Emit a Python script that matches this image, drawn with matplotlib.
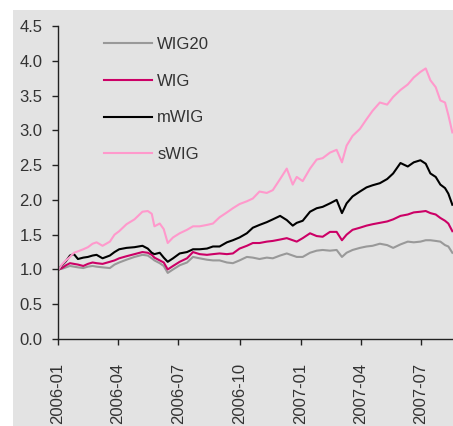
import matplotlib
matplotlib.use("Agg")
import matplotlib.pyplot as plt
import matplotlib.dates as mdates
from matplotlib.patches import Rectangle
import pandas as pd

dates = ["2006-01-02", "2006-01-07", "2006-01-13", "2006-01-19", "2006-01-25", "2006-01-31",
         "2006-02-08", "2006-02-15", "2006-02-22", "2006-02-28", "2006-03-09", "2006-03-20",
         "2006-03-27", "2006-04-03", "2006-04-14", "2006-04-26", "2006-05-08", "2006-05-16",
         "2006-05-22", "2006-05-26", "2006-06-03", "2006-06-09", "2006-06-15", "2006-06-23",
         "2006-07-03", "2006-07-14", "2006-07-23", "2006-08-02", "2006-08-13", "2006-08-22",
         "2006-09-01", "2006-09-12", "2006-09-21", "2006-10-01", "2006-10-12", "2006-10-21",
         "2006-10-31", "2006-11-11", "2006-11-20", "2006-12-01", "2006-12-11", "2006-12-20",
         "2006-12-26", "2007-01-04", "2007-01-15", "2007-01-25", "2007-02-03", "2007-02-14",
         "2007-02-24", "2007-03-04", "2007-03-11", "2007-03-20", "2007-03-31", "2007-04-10",
         "2007-04-19", "2007-04-30", "2007-05-11", "2007-05-20", "2007-05-31", "2007-06-11",
         "2007-06-20", "2007-06-30", "2007-07-08", "2007-07-15", "2007-07-23", "2007-07-30",
         "2007-08-06", "2007-08-11", "2007-08-17"]

wig20 = [1.00, 1.01, 1.03, 1.05, 1.04, 1.03, 1.02, 1.04, 1.05, 1.04, 1.03, 1.02,
         1.07, 1.10, 1.14, 1.18, 1.21, 1.20, 1.16, 1.13, 1.09, 1.05, 0.95, 1.00,
         1.06, 1.10, 1.18, 1.16, 1.14, 1.13, 1.13, 1.10, 1.09, 1.13, 1.18, 1.17,
         1.15, 1.17, 1.16, 1.20, 1.23, 1.20, 1.18, 1.18, 1.24, 1.27, 1.28, 1.27,
         1.28, 1.18, 1.24, 1.28, 1.31, 1.33, 1.34, 1.37, 1.35, 1.31, 1.36, 1.40,
         1.39, 1.40, 1.42, 1.42, 1.41, 1.40, 1.35, 1.33, 1.24]

wig = [1.00, 1.02, 1.06, 1.09, 1.08, 1.07, 1.05, 1.08, 1.10, 1.09, 1.08, 1.11,
       1.13, 1.16, 1.19, 1.22, 1.25, 1.24, 1.21, 1.17, 1.13, 1.10, 1.00, 1.05,
       1.11, 1.16, 1.25, 1.22, 1.21, 1.22, 1.23, 1.22, 1.23, 1.30, 1.34, 1.38,
       1.38, 1.40, 1.41, 1.43, 1.45, 1.42, 1.40, 1.45, 1.52, 1.48, 1.47, 1.54,
       1.54, 1.42, 1.50, 1.57, 1.60, 1.63, 1.65, 1.67, 1.69, 1.72, 1.77, 1.79,
       1.82, 1.83, 1.84, 1.81, 1.79, 1.74, 1.70, 1.66, 1.55]

mwig = [1.00, 1.06, 1.12, 1.20, 1.22, 1.15, 1.17, 1.18, 1.20, 1.21, 1.16, 1.20,
        1.25, 1.29, 1.31, 1.32, 1.34, 1.30, 1.24, 1.22, 1.24, 1.17, 1.11, 1.16,
        1.23, 1.25, 1.29, 1.29, 1.30, 1.33, 1.33, 1.39, 1.42, 1.46, 1.52, 1.60,
        1.64, 1.68, 1.72, 1.77, 1.71, 1.63, 1.67, 1.70, 1.83, 1.88, 1.90, 1.95,
        2.00, 1.81, 1.95, 2.05, 2.12, 2.18, 2.21, 2.24, 2.30, 2.38, 2.53, 2.48,
        2.54, 2.57, 2.52, 2.38, 2.33, 2.22, 2.17, 2.09, 1.93]

swig = [1.00, 1.07, 1.13, 1.18, 1.24, 1.26, 1.29, 1.32, 1.37, 1.39, 1.34, 1.40,
        1.50, 1.55, 1.65, 1.72, 1.83, 1.84, 1.80, 1.62, 1.66, 1.58, 1.38, 1.46,
        1.52, 1.57, 1.62, 1.62, 1.64, 1.66, 1.75, 1.82, 1.88, 1.94, 1.98, 2.02,
        2.12, 2.10, 2.14, 2.30, 2.45, 2.22, 2.33, 2.27, 2.45, 2.58, 2.60, 2.68,
        2.72, 2.54, 2.78, 2.92, 3.02, 3.16, 3.28, 3.40, 3.37, 3.48, 3.58, 3.66,
        3.76, 3.84, 3.89, 3.72, 3.62, 3.43, 3.40, 3.22, 2.97]

series_names = ["WIG20", "WIG", "mWIG", "sWIG"]
series_colors = ["#999999", "#cc0066", "#000000", "#ff99cc"]
yticks = [0.0, 0.5, 1.0, 1.5, 2.0, 2.5, 3.0, 3.5, 4.0, 4.5]
xtick_dates = ["2006-01-01", "2006-04-01", "2006-07-01", "2006-10-01",
               "2007-01-01", "2007-04-01", "2007-07-01"]

plt.rcParams['font.family'] = ['Liberation Sans', 'DejaVu Sans']

W, H = 453, 426
fig = plt.figure(figsize=(W / 100, H / 100), dpi=100)
fig.patch.set_facecolor("white")
bg = "#e3e3e3"
fig.patches.append(Rectangle((13 / W, 0), 1 - 13 / W, 1 - 10 / H,
                             transform=fig.transFigure, facecolor=bg,
                             edgecolor="none", zorder=-10))

ax = fig.add_axes([58 / W, 1 - 339 / H, (W - 58) / W, (339 - 26) / H])
ax.set_zorder(1)
ax.set_facecolor(bg)

x = pd.to_datetime(dates)
for vals, name, col in zip([wig20, wig, mwig, swig], series_names, series_colors):
    ax.plot(x, vals, color=col, lw=1.5, label=name)

ax.set_ylim(0, 4.5)
ax.set_yticks(yticks)
ax.set_yticklabels([f"{v:.1f}" for v in yticks])
ax.set_xlim(pd.Timestamp("2006-01-01"), pd.Timestamp("2007-08-18"))
ax.set_xticks(pd.to_datetime(xtick_dates))
ax.xaxis.set_major_formatter(mdates.DateFormatter("%Y-%m"))

for s in ["top", "right"]:
    ax.spines[s].set_visible(False)
for s in ["left", "bottom"]:
    ax.spines[s].set_color("#222222")
    ax.spines[s].set_linewidth(1.0)

ax.tick_params(axis="y", direction="out", length=4, width=1, pad=7,
               labelsize=12, colors="#222222", labelcolor="#333333")
ax.tick_params(axis="x", direction="out", length=4, width=1, pad=13,
               labelsize=12, colors="#222222", labelcolor="#333333",
               labelrotation=90)

leg = ax.legend(loc="upper left", bbox_to_anchor=((104 - 58) / (W - 58), 1 - (37 - 26) / (339 - 26)),
                frameon=False, fontsize=12, handlelength=2.9, handletextpad=0.3,
                labelspacing=1.3, borderpad=0, borderaxespad=0)
for t in leg.get_texts():
    t.set_color("#333333")

fig.savefig("out.png", dpi=100, facecolor="white")
